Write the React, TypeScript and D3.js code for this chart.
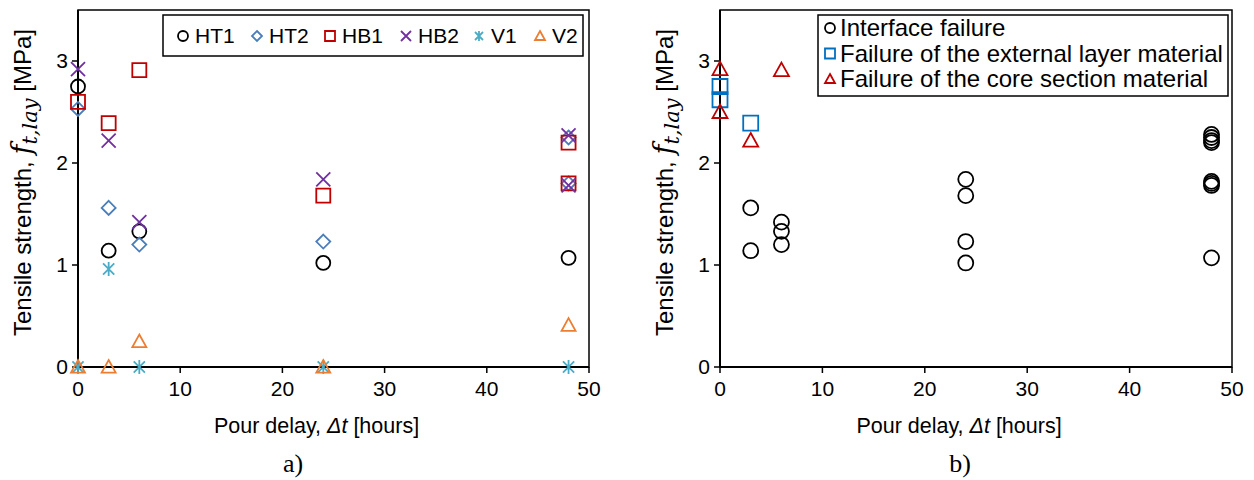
import React from 'react';
import * as d3 from 'd3';

// panel a) – one series per specimen type
const seriesNames = ['HT1', 'HT2', 'HB1', 'HB2', 'V1', 'V2'];
const seriesColors = ['#000000', '#4A7EBB', '#C00000', '#7030A0', '#4BACC6', '#ED7D31'];
const seriesShapes = ['circle', 'diamond', 'square', 'cross', 'asterisk', 'triangle'];

const delayHT1 = [0, 3, 6, 24, 48];
const valueHT1 = [2.75, 1.14, 1.33, 1.02, 1.07];
const delayHT2 = [0, 3, 6, 24, 48, 48];
const valueHT2 = [2.53, 1.56, 1.2, 1.23, 2.25, 1.8];
const delayHB1 = [0, 3, 6, 24, 48, 48];
const valueHB1 = [2.6, 2.39, 2.91, 1.68, 2.2, 1.8];
const delayHB2 = [0, 3, 6, 24, 48, 48];
const valueHB2 = [2.92, 2.22, 1.42, 1.84, 2.27, 1.78];
const delayV1 = [0, 3, 6, 24, 48];
const valueV1 = [0, 0.96, 0, 0, 0];
const delayV2 = [0, 3, 6, 24, 48];
const valueV2 = [0, 0, 0.25, 0, 0.41];

const seriesDelays = [delayHT1, delayHT2, delayHB1, delayHB2, delayV1, delayV2];
const seriesValues = [valueHT1, valueHT2, valueHB1, valueHB2, valueV1, valueV2];

// panel b) – by failure mode
const failureNames = ['Interface failure', 'Failure of the external layer material', 'Failure of the core section material'];
const failureColors = ['#000000', '#0070C0', '#C00000'];
const failureShapes = ['circle', 'square', 'triangle'];

const delayInterface = [3, 3, 6, 6, 6, 24, 24, 24, 24, 48, 48, 48, 48, 48, 48, 48, 48];
const valueInterface = [1.56, 1.14, 1.42, 1.33, 1.2, 1.84, 1.68, 1.23, 1.02, 2.28, 2.25, 2.22, 2.2, 1.82, 1.8, 1.78, 1.07];
const delayExternal = [0, 0, 3];
const valueExternal = [2.75, 2.62, 2.39];
const delayCore = [0, 0, 3, 6];
const valueCore = [2.92, 2.5, 2.22, 2.91];

const failureDelays = [delayInterface, delayExternal, delayCore];
const failureValues = [valueInterface, valueExternal, valueCore];

const xTicks = [0, 10, 20, 30, 40, 50];
const yTicks = [0, 1, 2, 3];

const FONT = 'Liberation Sans, Arial, sans-serif';

function markerPath(shape: string, s: number) {
  const h = s / 2;
  switch (shape) {
    case 'square':
      return `M${-h},${-h}H${h}V${h}H${-h}Z`;
    case 'diamond':
      return `M0,${-h}L${h},0L0,${h}L${-h},0Z`;
    case 'triangle':
      return `M0,${-h}L${h},${h * 0.8}L${-h},${h * 0.8}Z`;
    case 'cross':
      return `M${-h},${-h}L${h},${h}M${h},${-h}L${-h},${h}`;
    case 'asterisk':
      return `M${-h * 0.8},${-h * 0.8}L${h * 0.8},${h * 0.8}M${h * 0.8},${-h * 0.8}L${-h * 0.8},${h * 0.8}M0,${-h}V${h}`;
    default:
      return '';
  }
}

function Marker({ shape, x, y, size, color }: { shape: string; x: number; y: number; size: number; color: string }) {
  if (shape === 'circle') {
    return <circle cx={x} cy={y} r={size / 2} fill="none" stroke={color} strokeWidth={1.8} />;
  }
  return <path d={markerPath(shape, size)} transform={`translate(${x},${y})`} fill="none" stroke={color} strokeWidth={1.8} />;
}

function Axes({ x, y, caption, captionX }: { x: d3.ScaleLinear<number, number>; y: d3.ScaleLinear<number, number>; caption: string; captionX: number }) {
  const [x0, x1] = x.range();
  const [y0, y1] = y.range();
  const cx = (x0 + x1) / 2;
  return (
    <g fontFamily={FONT}>
      <rect x={x0} y={y1} width={x1 - x0} height={y0 - y1} fill="none" stroke="#000" strokeWidth={1.5} />
      <line x1={x0} x2={x0} y1={y0} y2={y1} stroke="#000" strokeWidth={2} />
      <line x1={x0} x2={x1} y1={y0} y2={y0} stroke="#000" strokeWidth={2} />
      {xTicks.map(t => (
        <g key={'x' + t}>
          <line x1={x(t)} x2={x(t)} y1={y0} y2={y0 + 6} stroke="#000" strokeWidth={1.5} />
          <text x={x(t)} y={y0 + 29} fontSize={21} textAnchor="middle">{t}</text>
        </g>
      ))}
      {yTicks.map(t => (
        <g key={'y' + t}>
          <line x1={x0 - 6} x2={x0} y1={y(t)} y2={y(t)} stroke="#000" strokeWidth={1.5} />
          <text x={x0 - 10} y={y(t) + 7} fontSize={21} textAnchor="end">{t}</text>
        </g>
      ))}
      <text x={cx - 17} y={y0 + 66} fontSize={21.5} textAnchor="middle">
        Pour delay, <tspan fontStyle="italic">Δt</tspan> [hours]
      </text>
      <text transform={`translate(${x0 - 47},${(y0 + y1) / 2 - 6}) rotate(-90)`} fontSize={24} textAnchor="middle">
        Tensile strength, <tspan fontFamily="DejaVu Serif, serif" fontStyle="italic" fontSize={27}>f</tspan>
        <tspan fontFamily="DejaVu Serif, serif" fontStyle="italic" fontSize={21} dy={6}>t,lay</tspan>
        <tspan dy={-6}> [MPa]</tspan>
      </text>
      <text x={captionX} y={y0 + 105} fontSize={26} fontFamily="Liberation Serif, Times New Roman, serif" textAnchor="middle">{caption}</text>
    </g>
  );
}

export default function App() {
  const yA = d3.scaleLinear().domain([0, 3.5]).range([367, 10]);
  const xA = d3.scaleLinear().domain([0, 50]).range([78, 589]);
  const xB = d3.scaleLinear().domain([0, 50]).range([720, 1232]);
  const yB = yA;

  const legendA = [183, 257, 330, 406, 479, 540];

  return (
    <div style={{ position: 'absolute', left: 0, top: 0 }}>
      <svg width={1254} height={480} style={{ display: 'block', background: '#fff' }}>
        <Axes x={xA} y={yA} caption="a)" captionX={293} />
        {seriesNames.map((name, i) => (
          <g key={name}>
            {seriesDelays[i].map((d, j) => (
              <Marker key={j} shape={seriesShapes[i]} x={xA(d)} y={yA(seriesValues[i][j])} size={14} color={seriesColors[i]} />
            ))}
          </g>
        ))}
        <g fontFamily={FONT}>
          <rect x={163} y={15} width={420} height={41} fill="#fff" stroke="#000" strokeWidth={1.5} />
          {seriesNames.map((name, i) => (
            <g key={name}>
              <Marker shape={seriesShapes[i]} x={legendA[i]} y={36} size={10} color={seriesColors[i]} />
              <text x={legendA[i] + 12} y={43} fontSize={21}>{name}</text>
            </g>
          ))}
        </g>

        <Axes x={xB} y={yB} caption="b)" captionX={960} />
        {failureNames.map((name, i) => (
          <g key={name}>
            {failureDelays[i].map((d, j) => (
              <Marker key={j} shape={failureShapes[i]} x={xB(d)} y={yB(failureValues[i][j])} size={15} color={failureColors[i]} />
            ))}
          </g>
        ))}
        <g fontFamily={FONT}>
          <rect x={818} y={15} width={410} height={81} fill="#fff" stroke="#000" strokeWidth={1.5} />
          {failureNames.map((name, i) => (
            <g key={name}>
              <Marker shape={failureShapes[i]} x={830} y={28 + i * 25.5} size={10} color={failureColors[i]} />
              <text x={840} y={36 + i * 25.5} fontSize={24}>{name}</text>
            </g>
          ))}
        </g>
      </svg>
    </div>
  );
}
